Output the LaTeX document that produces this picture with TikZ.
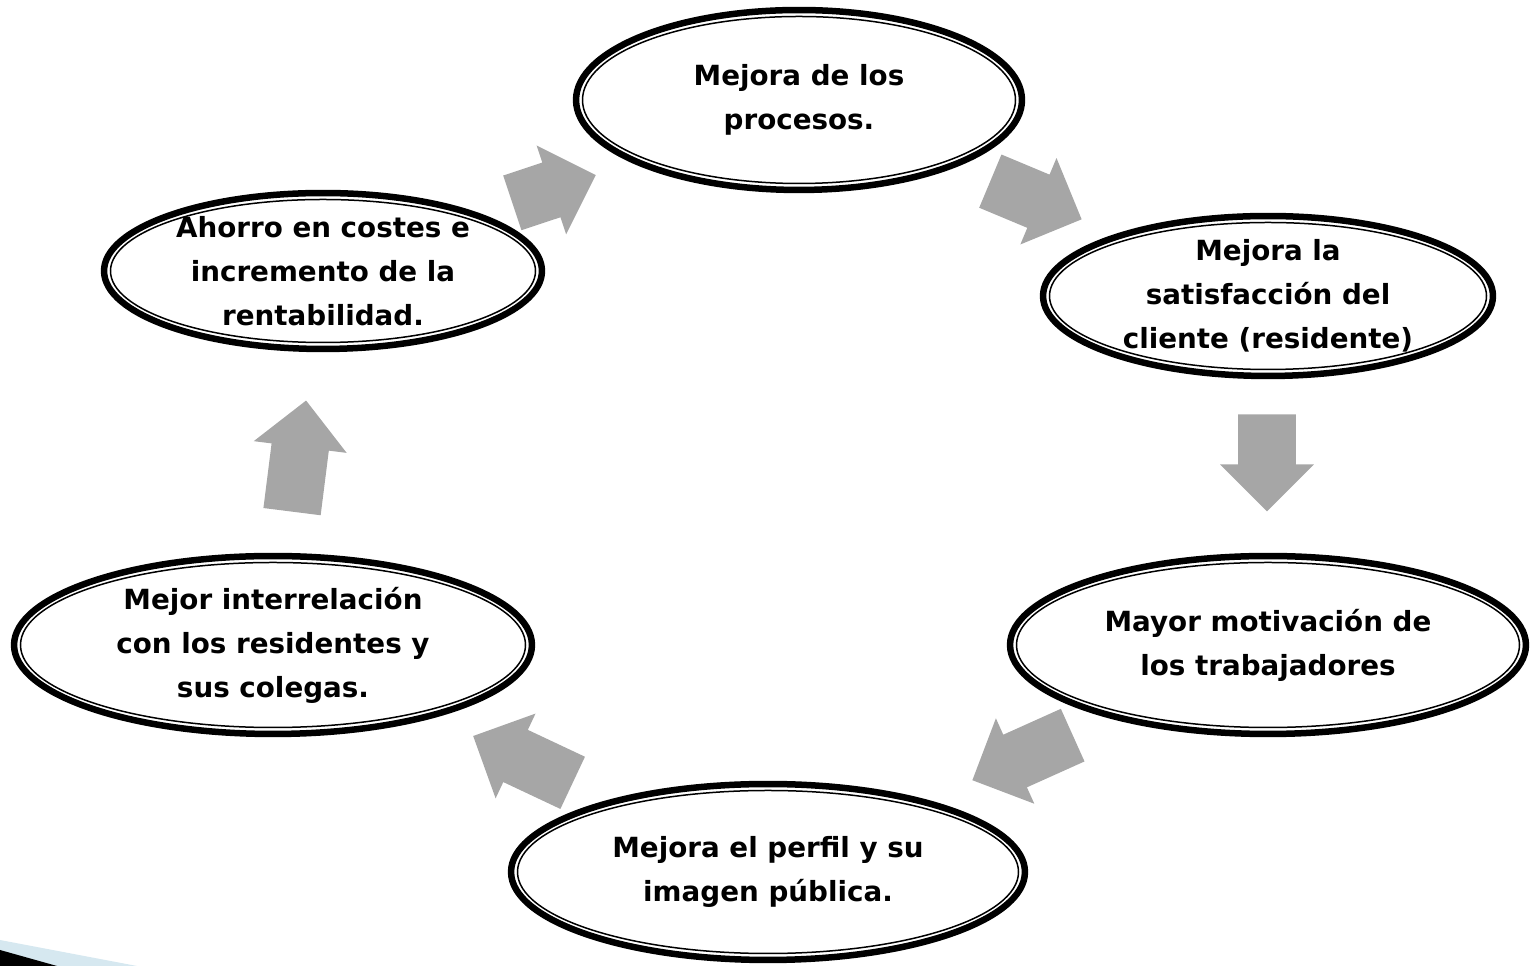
\documentclass[tikz,border=0pt]{standalone}
\usepackage{fontspec}
\setmainfont{DejaVu Sans}
\usetikzlibrary{shapes.geometric,shapes.arrows}
\definecolor{arrowgray}{HTML}{A6A6A6}
\definecolor{stripeblue}{HTML}{D6E8F0}

\begin{document}
\begin{tikzpicture}[x=0.02cm,y=0.02cm,
	bubble/.style={shape=ellipse,draw=black,line width=0.13cm,fill=white,inner sep=0pt},
	rim/.style={draw=black,line width=0.03cm},
	bubbletext/.style={align=center,inner sep=0pt,font=\fontsize{15.8}{25}\selectfont\bfseries},
	flow/.style={shape=single arrow,fill=arrowgray,draw=none,anchor=tail,inner xsep=0pt,inner ysep=0.57cm,single arrow head extend=0.36cm}]
		\useasboundingbox (0,0) rectangle (1535,966);
		% corner stripe
		\fill [stripeblue] (0,26) -- (137,0) -- (0,0) -- cycle;
		\fill [black] (0,16) -- (57,0) -- (0,0) -- cycle;
		% arrows between the steps
		\node [flow,minimum height=1.76cm,rotate=18.4] (F1) at (512,763) {};
		\node [flow,minimum height=1.98cm,rotate=-22.7] (F2) at (990,785) {};
		\node [flow,minimum height=1.94cm,rotate=-90] (F3) at (1267,552) {};
		\node [flow,minimum height=2.2cm,rotate=204.2] (F4) at (1073,231) {};
		\node [flow,minimum height=2.2cm,rotate=154.8] (F5) at (573,183) {};
		\node [flow,minimum height=2.24cm,rotate=82.8] (F6) at (292,454) {};
		% the six steps
		\node [bubble,minimum width=8.92cm,minimum height=3.6cm] (P1) at (799,866) {};
		\node [bubble,minimum width=9cm,minimum height=3.2cm] (P2) at (1268,670) {};
		\node [bubble,minimum width=10.32cm,minimum height=3.56cm] (P3) at (1268,321) {};
		\node [bubble,minimum width=10.28cm,minimum height=3.52cm] (P4) at (768,94) {};
		\node [bubble,minimum width=10.36cm,minimum height=3.56cm] (P5) at (273,321) {};
		\node [bubble,minimum width=8.76cm,minimum height=3.12cm] (P6) at (323,695) {};
		\draw [rim] (P1.center) ellipse (216.5 and 83.5);
		\draw [rim] (P2.center) ellipse (218.5 and 73.5);
		\draw [rim] (P3.center) ellipse (251.5 and 82.5);
		\draw [rim] (P4.center) ellipse (250.5 and 81.5);
		\draw [rim] (P5.center) ellipse (252.5 and 82.5);
		\draw [rim] (P6.center) ellipse (212.5 and 71.5);
		\node [bubbletext] (T1) at (P1.center) {Mejora de los\\procesos.};
		\node [bubbletext] (T2) at (P2.center) {Mejora la\\satisfacción del\\cliente (residente)};
		\node [bubbletext] (T3) at (P3.center) {Mayor motivación de\\los trabajadores};
		\node [bubbletext] (T4) at (P4.center) {Mejora el perfil y su\\imagen pública.};
		\node [bubbletext] (T5) at (P5.center) {Mejor interrelación\\con los residentes y\\sus colegas.};
		\node [bubbletext] (T6) at (P6.center) {Ahorro en costes e\\incremento de la\\rentabilidad.};
	\end{tikzpicture}
\end{document}
